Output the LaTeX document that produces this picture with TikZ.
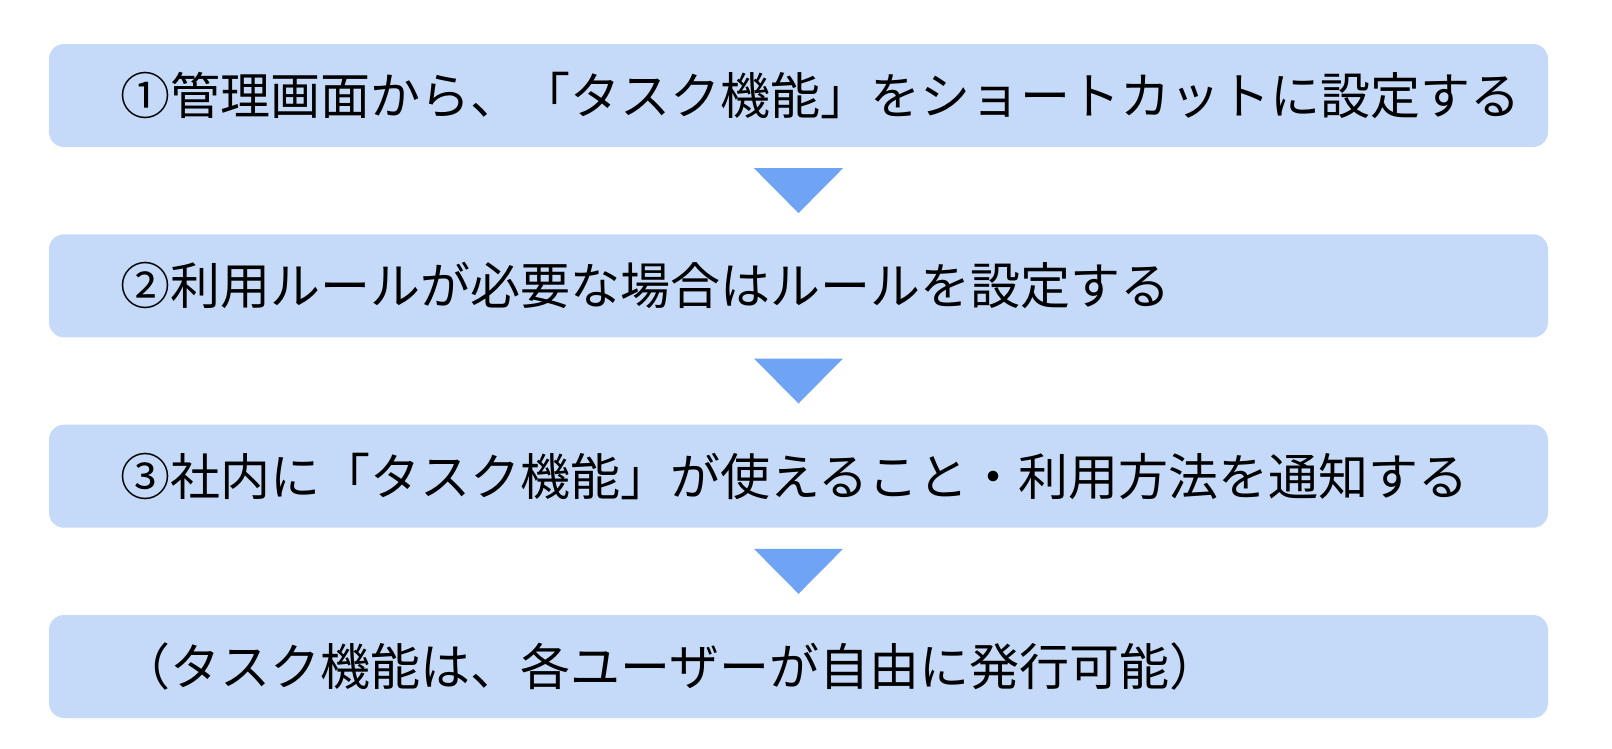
\documentclass[tikz,border=0pt]{standalone}
\usepackage{fontspec}
\setmainfont{Noto Sans CJK JP}
\usetikzlibrary{calc}
\definecolor{boxblue}{RGB}{197,218,248}
\definecolor{triblue}{RGB}{111,164,245}
\begin{document}
\begin{tikzpicture}[x=1pt,y=-1pt,
  box/.style={fill=boxblue, rounded corners=15pt, minimum width=1499pt, minimum height=103pt, inner sep=0pt, draw=none},
  boxtext/.style={anchor=west, inner sep=0pt, font=\fontsize{50}{60}\selectfont, text=black},
  tri/.style={fill=triblue, draw=none}]
\useasboundingbox (0,0) rectangle (1612,748);
\node[box] (b1) at (798.5,95.5) {};
\node[box] (b2) at (798.5,285.8) {};
\node[box] (b3) at (798.5,476.2) {};
\node[box] (b4) at (798.5,666.5) {};
\node[boxtext] (t1) at (120,95.5) {①管理画面から、「タスク機能」をショートカットに設定する};
\node[boxtext] (t2) at (120,285.8) {②利用ルールが必要な場合はルールを設定する};
\node[boxtext] (t3) at (120,476.2) {③社内に「タスク機能」が使えること・利用方法を通知する};
\node[boxtext] (t4) at (120,666.5) {（タスク機能は、各ユーザーが自由に発行可能）};
\foreach \a/\b in {b1/b2,b2/b3,b3/b4}{
  \fill[tri] ($(\a.south)+(-44.5,21)$) -- ($(\a.south)+(44.5,21)$) -- ($(\b.north)+(0,-21)$) -- cycle;
}
\end{tikzpicture}
\end{document}
